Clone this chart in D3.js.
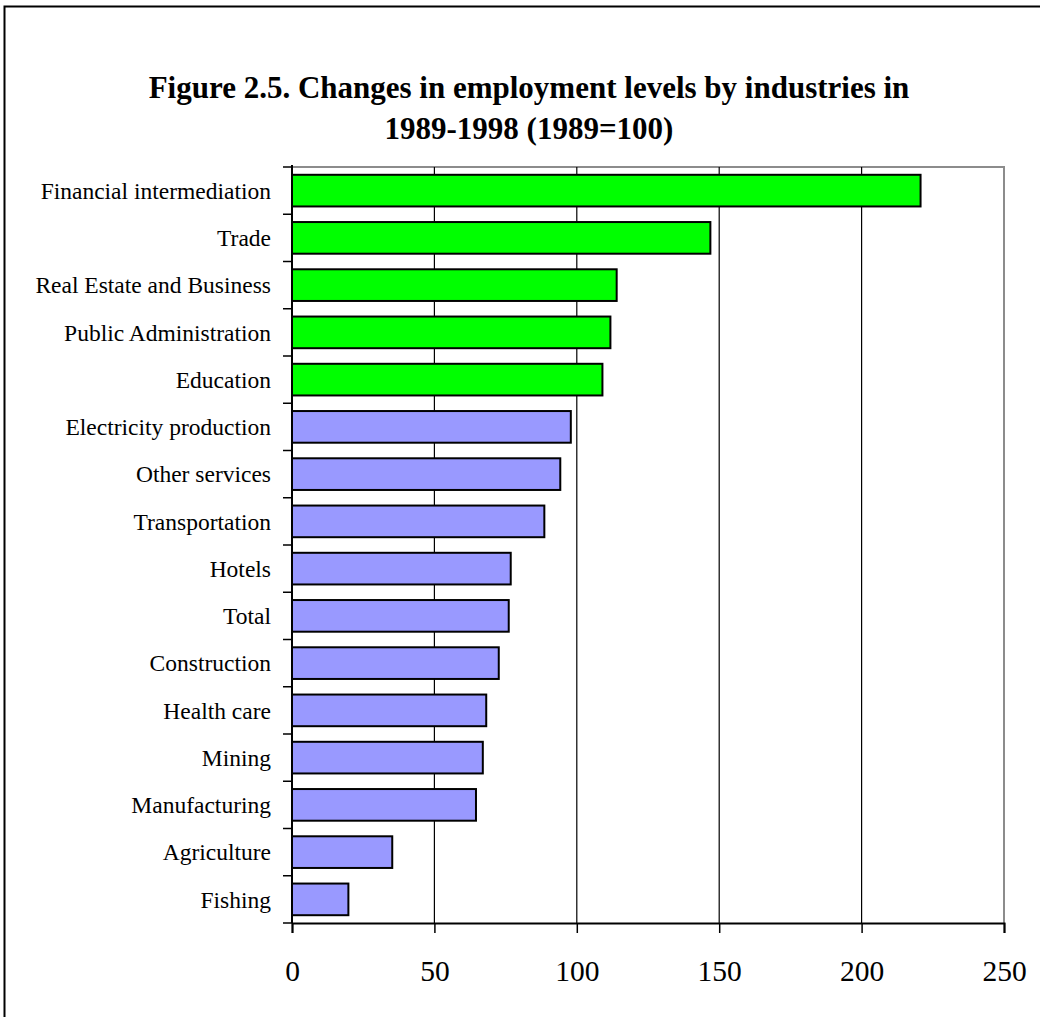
<!DOCTYPE html>
<html>
<head>
<meta charset="utf-8">
<script src="https://cdn.jsdelivr.net/npm/d3@7"></script>
<style>
  body { margin: 0; background: #fff; }
  text { font-family: "Liberation Serif", "Times New Roman", serif; fill: #000; }
</style>
</head>
<body>
<div id="chart"></div>
<script>
// industries, top to bottom
var industries = ['Financial intermediation', 'Trade', 'Real Estate and Business',
  'Public Administration', 'Education', 'Electricity production', 'Other services',
  'Transportation', 'Hotels', 'Total', 'Construction', 'Health care', 'Mining',
  'Manufacturing', 'Agriculture', 'Fishing']
// index 1998, 1989 = 100
var levels = [220.7, 146.9, 114.0, 111.8, 109.0, 97.9, 94.2, 88.6, 76.8, 76.1,
  72.6, 68.2, 67.0, 64.6, 35.2, 19.8]
var xTicks = [0, 50, 100, 150, 200, 250]

var width = 1040, height = 1017
var m = { left: 292, right: 1004, top: 167, bottom: 923 }

var svg = d3.select('#chart').append('svg')
    .attr('width', width)
    .attr('height', height)

// outer frame
svg.append('rect')
    .attr('x', 4.5).attr('y', 6.5)
    .attr('width', 1060).attr('height', 1040)
    .attr('fill', 'none')
    .attr('stroke', '#000')
    .attr('stroke-width', 2)

// title
var title = svg.append('text')
    .attr('text-anchor', 'middle')
    .style('font-weight', 'bold')
    .style('font-size', '31px')
title.append('tspan').attr('x', 529).attr('y', 98)
    .text('Figure 2.5. Changes in employment levels by industries in')
title.append('tspan').attr('x', 529).attr('y', 139)
    .text('1989-1998 (1989=100)')

var x = d3.scaleLinear().domain([0, 250]).range([m.left, m.right])
var y = d3.scaleBand().domain(industries).range([m.top, m.bottom])
    .paddingInner(0.33).paddingOuter(0.165)

// plot frame (grey top and right)
svg.append('path')
    .attr('d', 'M' + m.left + ',' + m.top + 'H' + m.right + 'V' + m.bottom)
    .attr('fill', 'none')
    .attr('stroke', '#8c8c8c')
    .attr('stroke-width', 2)

// vertical gridlines
svg.selectAll('.grid')
    .data(xTicks.filter(function(d) { return d > 0 && d < 250 }))
    .enter().append('line')
    .attr('x1', function(d) { return x(d) }).attr('x2', function(d) { return x(d) })
    .attr('y1', m.top).attr('y2', m.bottom)
    .attr('stroke', '#000')
    .attr('stroke-width', 1.2)

// bars
svg.selectAll('.bar')
    .data(levels)
    .enter().append('rect')
    .attr('x', x(0))
    .attr('y', function(d, i) { return y(industries[i]) })
    .attr('width', function(d) { return x(d) - x(0) })
    .attr('height', y.bandwidth())
    .attr('fill', function(d) { return d > 100 ? '#00ff00' : '#9999ff' })
    .attr('stroke', '#000')
    .attr('stroke-width', 2)

// y axis with ticks between bands
var bounds = industries.map(function(d) { return y(d) - y.step() * y.paddingOuter() })
bounds.push(m.bottom)
svg.append('line')
    .attr('x1', m.left).attr('x2', m.left)
    .attr('y1', m.top - 2).attr('y2', m.bottom)
    .attr('stroke', '#000').attr('stroke-width', 2)
svg.selectAll('.ytick')
    .data(bounds)
    .enter().append('line')
    .attr('x1', m.left - 9).attr('x2', m.left)
    .attr('y1', function(d) { return d }).attr('y2', function(d) { return d })
    .attr('stroke', '#000').attr('stroke-width', 1.5)

svg.selectAll('.ylabel')
    .data(industries)
    .enter().append('text')
    .attr('x', m.left - 21)
    .attr('y', function(d) { return y(d) + y.bandwidth() / 2 })
    .attr('dy', '0.35em')
    .attr('text-anchor', 'end')
    .style('font-size', '23.5px')
    .text(function(d) { return d })

// x axis
var xAxis = svg.append('g')
    .attr('transform', 'translate(0,' + m.bottom + ')')
    .call(d3.axisBottom(x).tickValues(xTicks).tickSize(10).tickPadding(27))
xAxis.select('.domain').attr('stroke-width', 2)
xAxis.selectAll('.tick line').attr('stroke-width', 1.5)
xAxis.selectAll('.tick text')
    .style('font-size', '29.5px')
    .style('font-family', '"Liberation Serif", "Times New Roman", serif')
</script>
</body>
</html>
